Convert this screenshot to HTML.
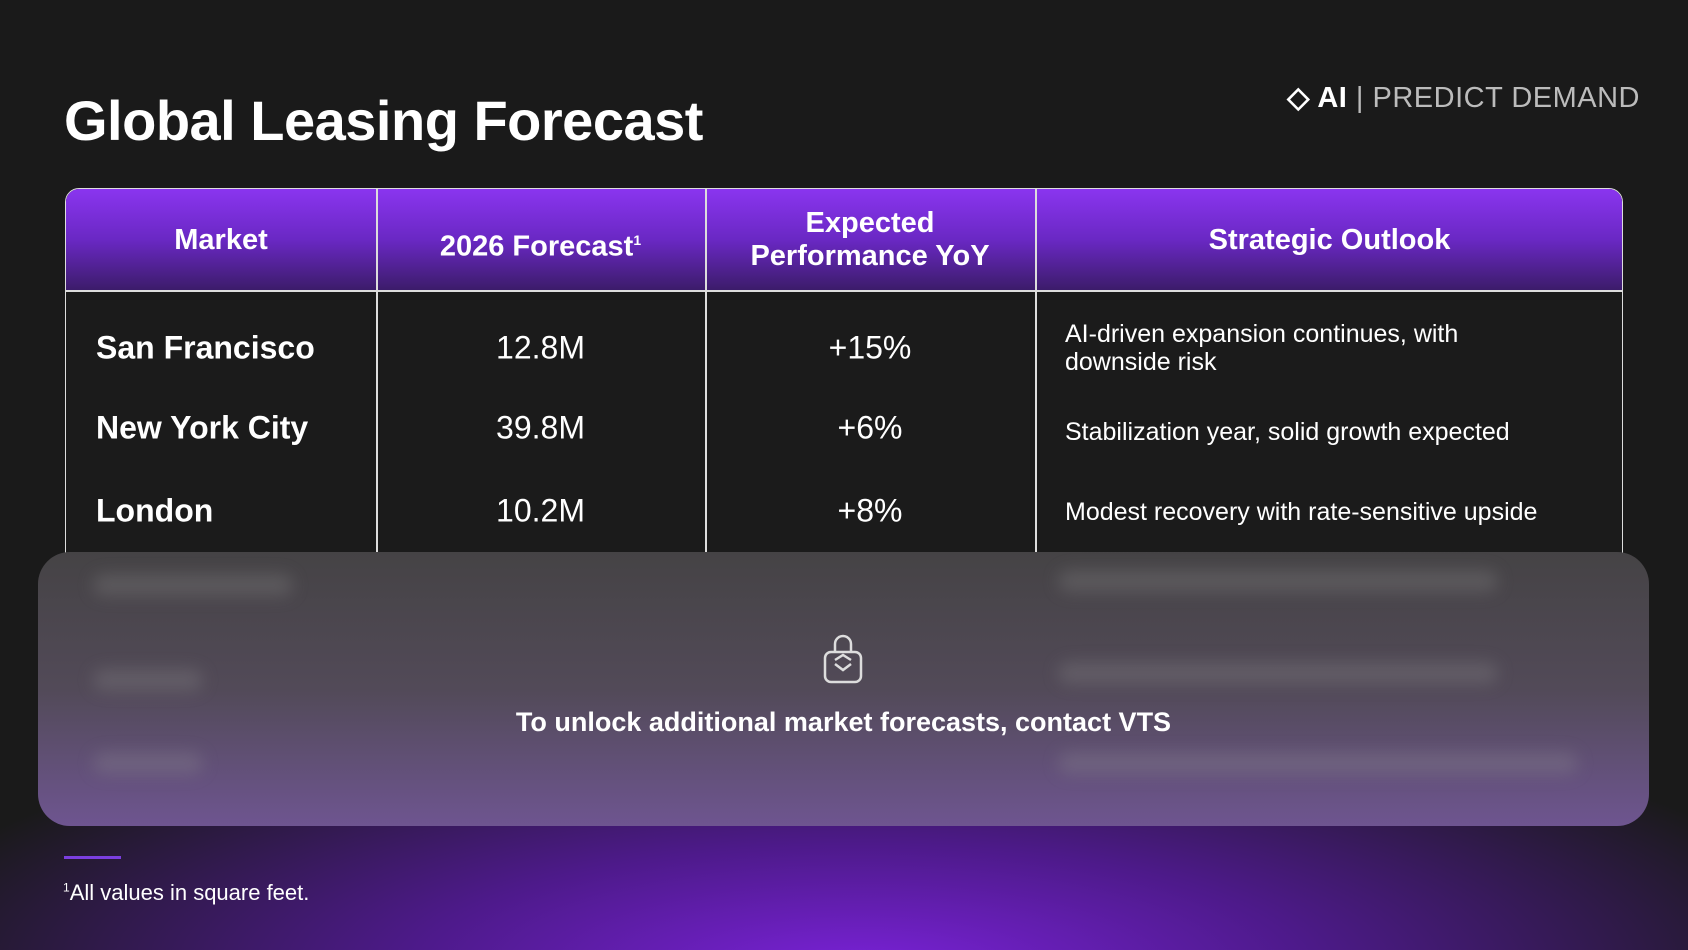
<!DOCTYPE html>
<html><head><style>
*{margin:0;padding:0;box-sizing:border-box}
body{width:1688px;height:950px;overflow:hidden;font-family:"Liberation Sans",sans-serif;color:#fff;
background:radial-gradient(ellipse 1000px 280px at 860px 970px,#7a22d8 0%,#4d1a8a 45%,rgba(40,20,60,0) 100%),#1a1a1a;position:relative}
.title{position:absolute;left:64px;top:88px;font-size:56px;font-weight:bold;letter-spacing:-0.5px}
.logo{position:absolute;right:48px;top:80px;font-size:29px;color:#bbb;letter-spacing:0.5px}
.logo b{color:#fff}
.tbl{position:absolute;left:65px;top:188px;width:1558px;height:400px;border:1.5px solid #ddd;border-radius:14px 14px 0 0;overflow:hidden;background:#1b1b1b}
.hdr{position:absolute;left:0;top:0;width:100%;height:103px;background:linear-gradient(180deg,#8a35ef 0%,#6a28c4 50%,#3c1c6a 100%);border-bottom:2px solid #ddd}
.v{position:absolute;top:0;bottom:0;width:2px;background:#ddd}
.h{position:absolute;font-weight:bold;font-size:29px;text-align:center;line-height:33px}
.c{position:absolute;font-size:32px;transform:translateY(-50%)}
.o{position:absolute;font-size:25px;line-height:28px;transform:translateY(-50%);left:1000px}
.ov{position:absolute;left:38px;top:552px;width:1611px;height:274px;border-radius:32px;overflow:hidden;
background:linear-gradient(180deg,#454345 0%,#524a58 50%,#6e5590 100%)}
.ov .t{position:absolute;width:100%;top:155px;text-align:center;font-size:27px;font-weight:bold}
.bl{position:absolute;height:22px;border-radius:11px;background:rgba(150,150,150,0.25);filter:blur(8px)}
</style></head><body>
<div class="title">Global Leasing Forecast</div>
<div class="logo"><b>◇ AI</b> | PREDICT DEMAND</div>
<div class="tbl">
 <div class="hdr"></div>
 <div class="v" style="left:310px"></div><div class="v" style="left:639px"></div><div class="v" style="left:969px"></div>
 <div class="h" style="left:0;width:310px;top:35px">Market</div>
 <div class="h" style="left:310px;width:329px;top:35px">2026 Forecast<sup style="font-size:14px">1</sup></div>
 <div class="h" style="left:639px;width:330px;top:18px">Expected<br>Performance YoY</div>
 <div class="h" style="left:969px;width:589px;top:35px">Strategic Outlook</div>
 <div class="c" style="left:30px;top:159px;font-weight:bold">San Francisco</div>
 <div class="c" style="left:30px;top:239px;font-weight:bold">New York City</div>
 <div class="c" style="left:30px;top:322px;font-weight:bold">London</div>
 <div class="c" style="left:310px;width:329px;text-align:center;top:159px">12.8M</div>
 <div class="c" style="left:310px;width:329px;text-align:center;top:239px">39.8M</div>
 <div class="c" style="left:310px;width:329px;text-align:center;top:322px">10.2M</div>
 <div class="c" style="left:639px;width:330px;text-align:center;top:159px">+15%</div>
 <div class="c" style="left:639px;width:330px;text-align:center;top:239px">+6%</div>
 <div class="c" style="left:639px;width:330px;text-align:center;top:322px">+8%</div>
 <div class="o" style="top:159px;left:999px">AI-driven expansion continues, with<br>downside risk</div>
 <div class="o" style="top:243px;left:999px">Stabilization year, solid growth expected</div>
 <div class="o" style="top:323px;left:999px">Modest recovery with rate-sensitive upside</div>
</div>
<div class="ov">
 <div class="bl" style="left:55px;top:22px;width:200px"></div>
 <div class="bl" style="left:55px;top:117px;width:110px"></div>
 <div class="bl" style="left:55px;top:200px;width:110px"></div>
 <div class="bl" style="left:1020px;top:18px;width:440px"></div>
 <div class="bl" style="left:1020px;top:110px;width:440px"></div>
 <div class="bl" style="left:1020px;top:200px;width:520px"></div>
 <svg style="position:absolute;left:785px;top:82px" width="40" height="52" viewBox="0 0 40 52" fill="none" stroke="#ddd" stroke-width="2.5">
  <path d="M12 18V10a8 8 0 0 1 16 0v8"/><rect x="2" y="18" width="36" height="30" rx="6"/><path d="M12 30l8 6 8-6M12 26l8-5 8 5"/></svg>
 <div class="t">To unlock additional market forecasts, contact VTS</div>
</div>
<div style="position:absolute;left:64px;top:856px;width:57px;height:3px;background:#7b3fe0"></div>
<div style="position:absolute;left:63px;top:880px;font-size:22px"><sup style="font-size:12px">1</sup>All values in square feet.</div>
</body></html>
